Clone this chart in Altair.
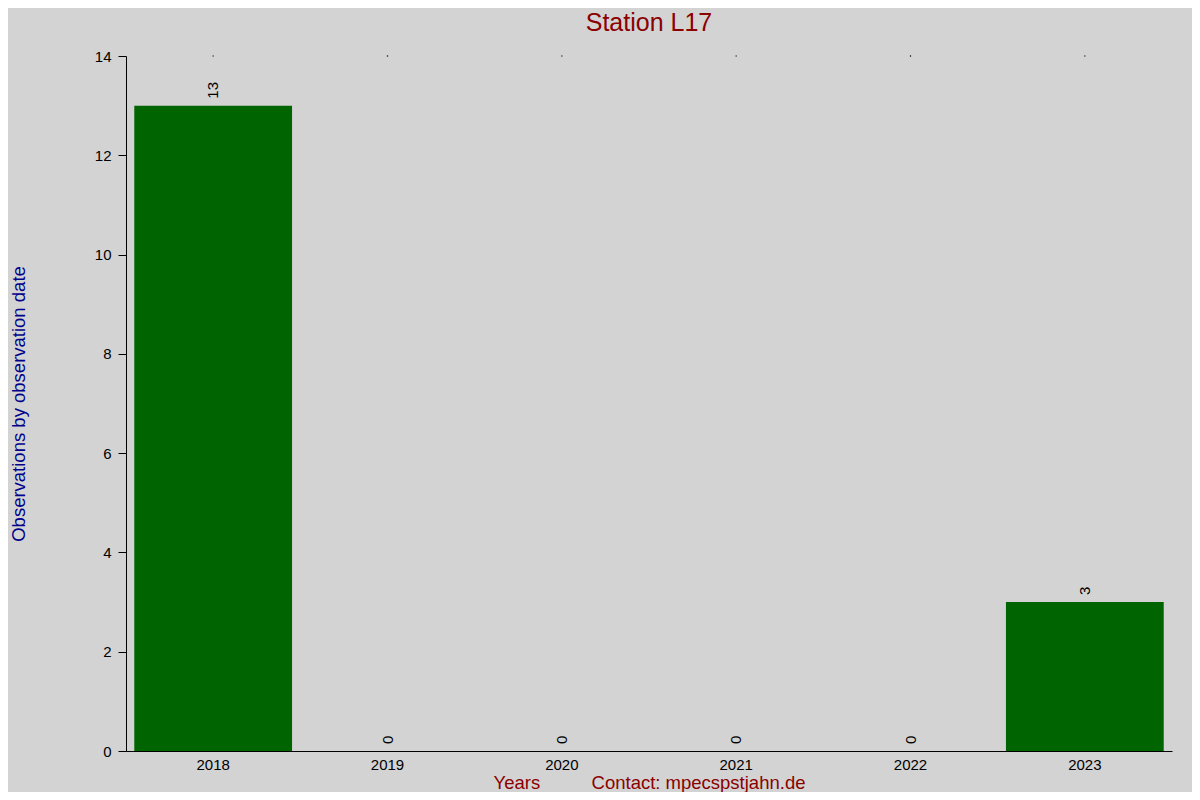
import altair as alt
import pandas as pd

years = ["2018", "2019", "2020", "2021", "2022", "2023"]
counts = [13, 0, 0, 0, 0, 3]
top_marks = [14, 14, 14, 14, 14, 14]

df = pd.DataFrame({"year": years, "count": counts, "top": top_marks})

FONT = "Liberation Sans"
sp = "\u00a0" * 10
x_title = "Years" + sp + "Contact: mpecspstjahn.de"

x_enc = alt.X(
    "year:N",
    sort=years,
    scale=alt.Scale(paddingInner=0.095, paddingOuter=0.0475),
    axis=alt.Axis(
        title=x_title,
        labelAngle=0,
        ticks=False,
        labelPadding=6,
        labelFontSize=15,
        labelColor="black",
        domainColor="black",
        titleColor="#8B0000",
        titleFontSize=18.5,
        titleFontWeight="normal",
        titleY=37,
        titleBaseline="alphabetic",
    ),
)

y_scale = alt.Scale(domain=[0, 14], nice=False)

bars = alt.Chart(df).mark_bar(color="#006400").encode(
    x=x_enc,
    y=alt.Y(
        "count:Q",
        scale=y_scale,
        axis=alt.Axis(
            title="Observations by observation date",
            values=[0, 2, 4, 6, 8, 10, 12, 14],
            grid=False,
            tickSize=8,
            tickColor="black",
            domainColor="black",
            labelFontSize=15,
            labelColor="black",
            labelPadding=7,
            titleColor="#00008B",
            titleFontSize=18.5,
            titleFontWeight="normal",
            titleX=-102,
            titleBaseline="alphabetic",
        ),
    ),
)

labels = alt.Chart(df).mark_text(
    angle=270, align="left", baseline="middle", dx=7, fontSize=15, color="black", font=FONT
).encode(
    x=alt.X("year:N", sort=years),
    y=alt.Y("count:Q", scale=y_scale),
    text="count:Q",
)

dots = alt.Chart(df).mark_square(size=1.5, color="black", opacity=1).encode(
    x=alt.X("year:N", sort=years),
    y=alt.Y("top:Q", scale=y_scale),
)

chart = (
    alt.layer(bars, labels, dots)
    .properties(
        width=1046,
        height=695,
        background="#d3d3d3",
        padding={"left": 118, "top": 48, "right": 20, "bottom": 41},
        autosize=alt.AutoSizeParams(type="none"),
        view=alt.ViewBackground(strokeOpacity=0, strokeWidth=0),
        title=alt.TitleParams(
            "Station L17",
            fontSize=25,
            fontWeight="normal",
            color="#8B0000",
            font=FONT,
            anchor="middle",
            frame="group",
            offset=13,
        ),
    )
    .configure_view(stroke=None, strokeWidth=0)
    .configure(font=FONT)
)

chart.save("out.html", embed_options={"renderer": "svg", "actions": False})
